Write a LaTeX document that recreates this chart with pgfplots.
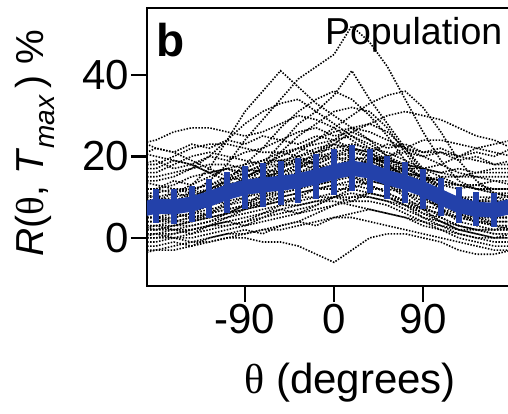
\documentclass[border=0pt]{standalone}
\usepackage{fontspec}
\setmainfont{Liberation Sans}
\newfontfamily\serif{Liberation Serif}
\usepackage{pgfplots}
\usepackage{pgfplotstable}
\pgfplotsset{compat=1.18}
\definecolor{meanblue}{RGB}{35,65,170}

% one row per cell, one column per angle
\pgfplotstableread{
id  -198 -180 -162 -144 -126 -108 -90 -72 -54 -36 -18 0 18 36 54 72 90 108 126 144 162 180
c1  11 10 9 11 14 18 24 29 34 39 42 45 52 48 42 34 26 19 14 12 11 10
c2  12 12 11 13 17 24 31 36 41 37 33 30 27 24 20 17 15 14 13 12 12 12
c3  6 6 6 7 9 11 14 18 23 28 31 35 41 34 28 22 16 11 8 6 6 6
c4  5 5 6 8 11 14 18 22 27 31 34 36 34 30 25 19 14 10 7 5 5 5
c5  11 10 9 9 10 11 13 15 18 21 24 27 30 33 35 36 32 26 19 14 11 10
c6  14 14 15 17 20 24 28 31 33 34 31 28 25 22 19 16 14 13 13 13 14 14
c7  23 24 26 27 27 26 25 26 28 30 29 27 24 21 18 17 17 18 20 22 23 24
c8  24 22 21 19 17 15 14 14 15 17 20 23 26 28 30 31 30 29 27 25 24 22
c9  3 3 3 4 6 9 13 17 21 25 28 31 32 31 27 21 15 10 6 4 3 3
c10 18 18 20 22 23 23 22 21 21 22 24 26 27 26 24 22 21 21 20 19 18 18
c11 8 8 9 10 12 14 16 18 20 22 23 24 25 23 20 16 13 11 9 8 8 8
c12 4 4 5 6 8 11 13 15 16 17 19 21 22 21 18 14 10 7 5 4 4 4
c13 12 12 13 15 16 17 18 19 19 20 21 22 23 22 21 19 17 15 13 12 12 12
c14 2 2 2 3 4 6 8 10 12 13 15 17 19 20 18 15 11 7 4 3 2 2
c15 9 9 10 11 12 13 14 15 15 16 17 18 18 17 16 14 13 11 10 9 9 9
c16 6 6 7 8 10 12 15 17 18 18 17 16 17 19 20 18 14 10 8 6 6 6
c17 1 1 1 2 3 5 7 9 11 14 16 18 19 17 14 11 8 5 3 2 1 1
c18 15 15 16 17 18 18 17 16 15 15 16 17 18 19 19 18 17 16 15 15 15 15
c19 5 5 5 6 7 8 10 12 14 16 18 20 21 20 18 15 12 9 7 6 5 5
c20 10 10 11 12 13 15 17 19 21 20 18 16 15 14 13 12 11 10 10 10 10 10
c21 3 3 4 5 6 8 9 10 11 12 13 14 15 16 16 14 11 8 6 4 3 3
c22 7 7 8 9 11 13 14 15 16 18 21 24 27 28 26 22 17 12 9 7 7 7
c23 0 0 0 1 2 3 4 6 8 10 12 13 14 13 11 9 6 4 2 1 0 0
c24 11 11 12 12 13 14 16 18 19 19 20 21 20 18 17 16 15 14 13 12 11 11
c25 4 4 4 5 6 7 8 9 10 11 12 12 12 11 10 9 8 7 6 5 4 4
c26 8 8 7 7 8 10 12 14 17 20 22 23 22 20 17 13 10 8 7 7 8 8
c27 3 2 3 4 5 6 7 8 9 10 10 11 13 15 17 17 15 12 8 5 3 2
c28 14 13 12 11 11 12 13 14 14 13 13 14 16 18 20 21 20 18 16 15 14 13
c29 6 6 6 7 9 10 11 12 13 14 14 15 16 15 13 11 9 8 7 6 6 6
c30 9 9 8 8 8 9 10 11 13 15 17 19 20 19 17 14 12 10 9 9 9 9
c31 -4 -3 -3 -2 -1 0 0 -1 -1 -2 -4 -6 -3 0 1 1 0 -1 -3 -4 -4 -3
c32 -3 -3 -2 -1 0 1 1 2 2 3 4 5 5 4 3 2 1 0 -1 -2 -3 -3
c33 -1 -1 0 0 1 2 3 4 5 6 7 8 9 9 8 6 4 2 1 0 -1 -1
c34 0 1 0 -1 -1 0 1 2 3 4 6 8 10 11 10 8 5 3 1 0 0 1
c35 2 3 2 2 3 4 5 6 7 8 9 9 8 7 6 5 4 3 2 2 2 3
c36 5 5 4 4 5 6 8 11 13 15 16 16 15 13 11 9 7 6 5 5 5 5
c37 16 16 18 20 21 20 19 18 18 19 20 20 19 17 15 14 14 15 15 16 16 16
c38 21 20 19 18 16 14 12 11 11 12 14 16 18 19 20 22 24 24 23 22 21 20
c39 2 2 3 3 4 5 6 7 8 8 9 10 11 10 9 7 5 4 3 2 2 2
c40 7 7 6 5 5 6 7 8 10 11 12 13 13 12 12 11 10 9 8 7 7 7
c41 0 0 1 2 3 3 4 5 6 7 8 10 12 14 13 10 7 4 2 1 0 0
c42 4 4 5 6 6 7 8 8 9 9 10 10 10 10 9 8 7 6 5 4 4 4
c43 20 22 21 23 22 24 23 25 24 26 27 25 26 24 22 23 21 22 20 21 20 22
c44 17 17 19 18 20 19 21 22 24 23 25 24 22 21 19 18 17 16 17 16 17 17
c45 12 12 14 13 15 17 16 18 20 22 21 23 21 20 18 16 15 13 12 13 12 12
c46 10 9 11 10 12 14 15 17 16 18 19 20 18 19 17 15 13 11 10 9 10 9
c47 1 1 2 1 3 4 3 5 7 6 8 10 9 11 10 8 6 5 3 2 1 1
c48 18 19 17 18 16 17 15 16 17 19 18 20 22 21 23 22 20 21 19 20 18 19
c49 -2 -2 -1 -2 0 1 2 1 3 4 3 5 6 7 6 5 3 2 0 -1 -2 -2
c50 6 6 8 7 9 10 12 11 13 15 14 16 17 16 14 13 11 10 8 7 6 6
}\rawcurves
\pgfplotstabletranspose[colnames from=id]\curves\rawcurves

% population mean and error
\pgfplotstableread{
x y e
-198 6.8 4.2
-180 7.8 4.2
-162 7.6 4.3
-144 8.3 4.5
-126 9.6 4.8
-108 11.2 5.0
-90 12.4 5.2
-72 13.0 5.3
-54 13.4 5.4
-36 14.0 5.5
-18 15.0 5.5
0 16.2 5.6
18 17.1 5.6
36 16.4 5.5
54 14.8 5.3
72 13.6 5.0
90 12.0 4.8
108 10.0 4.6
126 8.0 4.4
144 7.0 4.2
162 6.8 4.2
180 7.8 4.2
}\meancurve

\begin{document}
\begin{tikzpicture}
\begin{axis}[
  scale only axis,
  width=372pt, height=278pt,
  xmin=-189, xmax=187,
  ymin=-11.8, ymax=56.4,
  xtick={-90,0,90},
  ytick={0,20,40},
  xtick pos=bottom, ytick pos=left,
  tick align=outside,
  major tick length=16pt,
  tick style={line width=2.4pt, black},
  axis line style={line width=2.4pt, black},
  /pgf/number format/assume math mode=true,
  tick label style={font=\fontsize{42}{48}\selectfont, inner sep=2pt},
  xlabel={{\serif θ} (degrees)},
  ylabel={\textit{R}({\serif θ}, \textit{T}\raisebox{-0.3em}{\fontsize{28}{28}\selectfont\textit{max}}\,) \%},
  xlabel style={at={(axis description cs:0.546,-0.349)}, anchor=center,
    font=\fontsize{42}{48}\selectfont},
  ylabel style={at={(axis description cs:-0.301,0.514)}, anchor=center,
    font=\fontsize{39}{44}\selectfont},
]
\pgfplotsinvokeforeach{1,...,50}{
  \addplot[black, line width=1.6pt, dash pattern=on 1.5pt off 1.5pt]
    table[x=colnames, y=c#1]{\curves};
}
\addplot[meanblue, line width=15pt, line join=round,
  error bars/.cd, y dir=both, y explicit, error mark=none,
  error bar style={line width=6pt, meanblue}]
  table[x=x, y=y, y error=e]{\meancurve};
\node[anchor=base west, inner sep=0, font=\fontsize{46}{50}\selectfont\bfseries]
  at (axis description cs:0.025,0.824) {b};
\node[anchor=base west, inner sep=0, font=\fontsize{37.5}{42}\selectfont]
  at (axis description cs:0.478,0.867) {Population};
\end{axis}
\pgfresetboundingbox
\path[use as bounding box] (-147pt,-128pt) rectangle (361pt,286pt);
\end{tikzpicture}
\end{document}
